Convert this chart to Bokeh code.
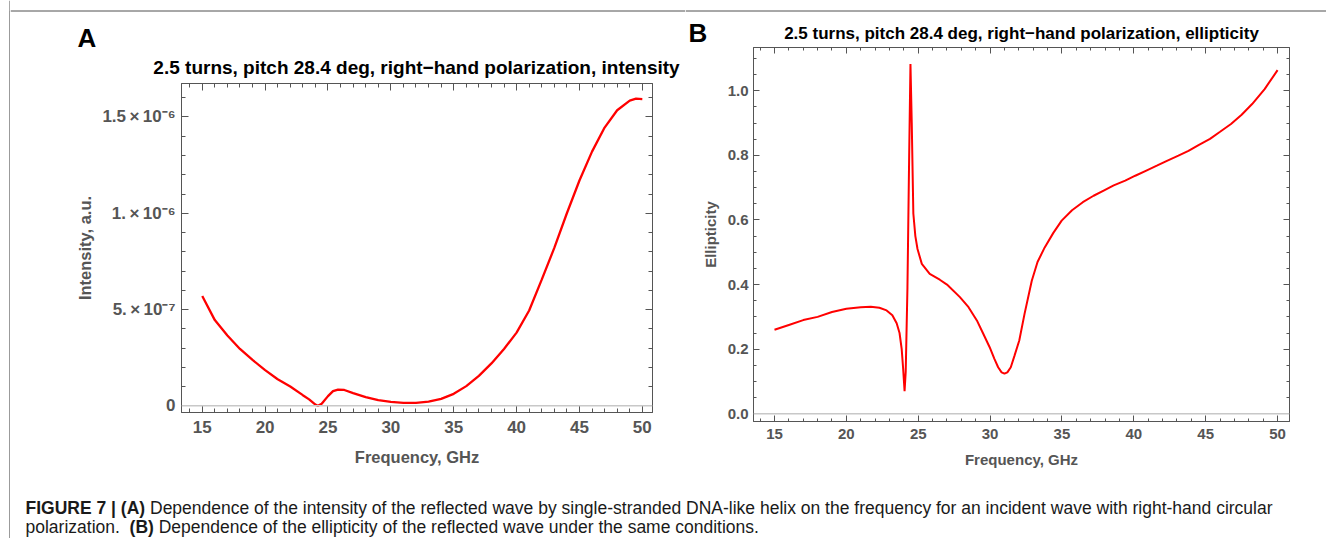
from bokeh.plotting import figure
from bokeh.models import (Range1d, LinearAxis, FixedTicker, CustomJSTickFormatter,
                          Span, Label, PrintfTickFormatter, BoxAnnotation)
from bokeh.layouts import column, row
from bokeh.embed import file_html
from bokeh.resources import INLINE

# ---------------- data ----------------
freq_a = [15.0, 16.0, 17.0, 18.0, 19.0, 20.0, 21.0, 22.0, 23.0, 23.5, 24.0, 24.2,
          24.5, 25.0, 25.4, 25.8, 26.3, 27.0, 28.0, 29.0, 30.0, 31.0, 32.0, 33.0,
          34.0, 35.0, 36.0, 37.0, 38.0, 39.0, 40.0, 41.0, 42.0, 43.0, 44.0, 45.0,
          46.0, 47.0, 48.0, 49.0, 49.5, 50.0]
intensity_a = [5.70e-7, 4.45e-7, 3.65e-7, 2.95e-7, 2.38e-7, 1.85e-7, 1.38e-7, 1.00e-7,
               0.55e-7, 0.33e-7, 0.06e-7, 0.00e-7, 0.10e-7, 0.50e-7, 0.76e-7, 0.84e-7,
               0.82e-7, 0.66e-7, 0.45e-7, 0.29e-7, 0.20e-7, 0.15e-7, 0.15e-7, 0.21e-7,
               0.36e-7, 0.62e-7, 1.02e-7, 1.55e-7, 2.20e-7, 2.95e-7, 3.80e-7, 4.95e-7,
               6.55e-7, 8.20e-7, 10.0e-7, 11.7e-7, 13.2e-7, 14.45e-7, 15.35e-7, 15.85e-7,
               15.95e-7, 15.93e-7]

freq_b = [15.0, 16.0, 17.0, 18.0, 19.0, 20.0, 21.0, 21.7, 22.3, 22.8, 23.2, 23.5, 23.7,
          23.85, 23.95, 24.05, 24.13, 24.25, 24.37, 24.46, 24.55, 24.66, 24.8, 24.95,
          25.25, 25.8, 26.5, 27.0, 27.9, 28.5, 29.08, 29.5, 29.97, 30.3, 30.56, 30.8,
          31.0, 31.2, 31.44, 31.7, 32.03, 32.4, 32.9, 33.3, 33.8, 34.4, 34.98, 35.7,
          36.45, 37.2, 37.9, 38.6, 39.4, 40.1, 40.87, 41.6, 42.34, 43.1, 43.8, 44.5,
          45.3, 46.0, 46.76, 47.5, 48.23, 49.1, 50.0]
ellipticity_b = [0.26, 0.275, 0.29, 0.30, 0.315, 0.325, 0.33, 0.331, 0.328, 0.32, 0.305,
                 0.28, 0.25, 0.20, 0.14, 0.07, 0.13, 0.39, 0.80, 1.083, 0.90, 0.62, 0.55,
                 0.51, 0.464, 0.433, 0.415, 0.40, 0.361, 0.33, 0.289, 0.25, 0.206, 0.17,
                 0.144, 0.128, 0.124, 0.128, 0.144, 0.18, 0.227, 0.31, 0.412, 0.47, 0.515,
                 0.56, 0.598, 0.63, 0.655, 0.675, 0.691, 0.707, 0.722, 0.737, 0.753, 0.768,
                 0.784, 0.799, 0.814, 0.832, 0.851, 0.873, 0.897, 0.926, 0.959, 1.005, 1.064]

freq_ticks = [15, 20, 25, 30, 35, 40, 45, 50]
freq_minor = list(range(14, 51))
int_ticks = [0.0, 5e-7, 1e-6, 1.5e-6]
int_tick_labels = ["0", "5.\u2009×\u200910⁻⁷", "1.\u2009×\u200910⁻⁶", "1.5\u2009×\u200910⁻⁶"]
int_minor = [k * 1e-7 for k in range(0, 17)]
ell_ticks = [0.0, 0.2, 0.4, 0.6, 0.8, 1.0]
ell_minor = [k * 0.05 for k in range(0, 23)]

title_a = "2.5 turns, pitch 28.4 deg, right\u2212hand polarization, intensity"
title_b = "2.5 turns, pitch 28.4 deg, right\u2212hand polarization, ellipticity"
xlabel = "Frequency, GHz"
ylabel_a = "Intensity, a.u."
ylabel_b = "Ellipticity"
cap_bold_1 = "FIGURE 7 | (A)"
cap_text_1 = ("Dependence of the intensity of the reflected wave by single-stranded DNA-like "
              "helix on the frequency for an incident wave with right-hand circular")
cap_text_2a = "polarization."
cap_bold_2 = "(B)"
cap_text_2b = "Dependence of the ellipticity of the reflected wave under the same conditions."

FONT = "Liberation Sans"
FRAME = "#555555"
LABEL = "#555555"
RED = "#ff0000"
BORDER = "#505050"
MID = 0.3465   # baseline offset of the em-box middle, in em


def style_axis(ax, label_size, major_in, minor_in, show_labels=True, standoff=6):
    ax.major_tick_in = major_in
    ax.major_tick_out = 0
    ax.minor_tick_in = minor_in
    ax.minor_tick_out = 0
    ax.axis_line_color = FRAME
    ax.major_tick_line_color = FRAME
    ax.minor_tick_line_color = FRAME
    ax.major_label_text_font = FONT
    ax.major_label_text_font_style = "bold"
    ax.major_label_text_font_size = label_size
    ax.major_label_text_color = LABEL
    ax.major_label_standoff = standoff
    ax.axis_label_text_font = FONT
    ax.axis_label_text_font_style = "bold"
    ax.axis_label_text_color = LABEL
    if not show_labels:
        ax.formatter = CustomJSTickFormatter(code="return ''")
        ax.major_label_standoff = 0
        ax.major_label_text_font_size = "0px"


def make_panel(width, height, left, right, top, bottom, xr, yr):
    p = figure(width=width, height=height, x_range=xr, y_range=yr,
               output_backend="svg", toolbar_location=None,
               min_border_left=left, min_border_right=right,
               min_border_top=top, min_border_bottom=bottom)
    p.grid.visible = False
    p.outline_line_color = FRAME
    p.outline_line_width = 1
    p.background_fill_color = "white"
    p.border_fill_color = "white"
    return p


def make_blank(width, height):
    # a text/decoration canvas whose frame covers the whole figure (1 unit = 1 px, y downwards)
    b = figure(width=width, height=height, x_range=Range1d(0, width), y_range=Range1d(height, 0),
               output_backend="svg", toolbar_location=None, min_border=0,
               x_axis_location=None, y_axis_location=None)
    b.grid.visible = False
    b.outline_line_color = None
    b.background_fill_color = "white"
    b.border_fill_color = "white"
    return b


def text(fig, x, baseline, txt, size, bold=False, align="left", color="black"):
    fig.add_layout(Label(x=x, y=baseline - MID * size, text=txt, text_font=FONT,
                         text_font_style="bold" if bold else "normal",
                         text_font_size=f"{size}px", text_color=color,
                         text_align=align, text_baseline="middle"))


# ---------------- geometry ----------------
STRIP_W = 10
WA, WB = 675, 641
ROW_H, CAP_H = 480, 58
HA, HB = 78, 47

# ---------------- panel A ----------------
hA = make_blank(WA, HA)
hA.add_layout(Span(location=10.5, dimension="width", line_color=BORDER, line_width=1))
text(hA, 67, 47, "A", 26, bold=True)
text(hA, 406, 73.5, title_a, 19, bold=True, align="center")

pA = make_panel(WA, ROW_H - HA, 171, 33, 5, 68, Range1d(13.35, 50.81), Range1d(-3.5e-8, 1.674e-6))
pA.add_layout(Span(location=0, dimension="width", line_color="#c8c8c8", line_width=1.5))
pA.line(freq_a, intensity_a, line_color=RED, line_width=2.3)

xa = pA.xaxis[0]
xa.ticker = FixedTicker(ticks=freq_ticks, minor_ticks=freq_minor)
style_axis(xa, "17px", 7, 4, standoff=8)
xa.axis_label = xlabel
xa.axis_label_text_font_size = "16.5px"
xa.axis_label_standoff = 12

ya = pA.yaxis[0]
ya.ticker = FixedTicker(ticks=int_ticks, minor_ticks=int_minor)
ya.formatter = CustomJSTickFormatter(args=dict(tvals=int_ticks, tlabels=int_tick_labels), code="""
    for (let i = 0; i < tvals.length; i++) {
        if (Math.abs(tvals[i] - tick) < 1e-10) return tlabels[i];
    }
    return '';
""")
style_axis(ya, "17px", 7, 4, standoff=6)
ya.axis_label = ylabel_a
ya.axis_label_text_font_size = "16.5px"
ya.axis_label_standoff = 5

ra = LinearAxis(ticker=FixedTicker(ticks=int_ticks, minor_ticks=int_minor))
style_axis(ra, "1px", 7, 4, show_labels=False)
pA.add_layout(ra, "right")
ta = LinearAxis(ticker=FixedTicker(ticks=freq_ticks, minor_ticks=freq_minor))
style_axis(ta, "1px", 7, 4, show_labels=False)
pA.add_layout(ta, "above")

# ---------------- panel B ----------------
hB = make_blank(WB, HB)
hB.add_layout(Span(location=10.5, dimension="width", line_color=BORDER, line_width=1))
text(hB, 3, 41.5, "B", 26, bold=True)
text(hB, 336, 38.5, title_b, 17, bold=True, align="center")

pB = make_panel(WB, ROW_H - HB, 68, 37, 0, 59, Range1d(13.54, 50.83), Range1d(-0.024, 1.134))
pB.add_layout(Span(location=0, dimension="width", line_color="#c8c8c8", line_width=1.5))
pB.line(freq_b, ellipticity_b, line_color=RED, line_width=2.0)

xb = pB.xaxis[0]
xb.ticker = FixedTicker(ticks=freq_ticks, minor_ticks=freq_minor)
style_axis(xb, "15px", 6, 3, standoff=7)
xb.axis_label = xlabel
xb.axis_label_text_font_size = "15px"
xb.axis_label_standoff = 9

yb = pB.yaxis[0]
yb.ticker = FixedTicker(ticks=ell_ticks, minor_ticks=ell_minor)
yb.formatter = PrintfTickFormatter(format="%.1f")
style_axis(yb, "15px", 6, 3, standoff=5)
yb.axis_label = ylabel_b
yb.axis_label_text_font_size = "15px"
yb.axis_label_standoff = 6

rb = LinearAxis(ticker=FixedTicker(ticks=ell_ticks, minor_ticks=ell_minor))
style_axis(rb, "1px", 6, 3, show_labels=False)
pB.add_layout(rb, "right")
tb = LinearAxis(ticker=FixedTicker(ticks=freq_ticks, minor_ticks=freq_minor))
style_axis(tb, "1px", 6, 3, show_labels=False)
pB.add_layout(tb, "above")

# ---------------- caption ----------------
pc = make_blank(WA + WB, CAP_H)
CAP_PX = 17.5
bold_w1 = 6.836 * CAP_PX      # width of bold "FIGURE 7 | (A)"
space = 0.278 * CAP_PX
polar_w = 5.391 * CAP_PX      # width of regular "polarization."
bold_w2 = 1.388 * CAP_PX      # width of bold "(B)"
x0 = 15
b1, b2 = 34, 53               # baselines inside the caption strip
CAPC = "#1a1a1a"
text(pc, x0, b1, cap_bold_1, CAP_PX, bold=True, color=CAPC)
text(pc, x0 + bold_w1 + space, b1, cap_text_1, CAP_PX, color=CAPC)
text(pc, x0, b2, cap_text_2a, CAP_PX, color=CAPC)
text(pc, x0 + polar_w + 2 * space, b2, cap_bold_2, CAP_PX, bold=True, color=CAPC)
text(pc, x0 + polar_w + 3 * space + bold_w2, b2, cap_text_2b, CAP_PX, color=CAPC)

# ---------------- outer frame strip (left edge) ----------------
strip = make_blank(STRIP_W, ROW_H + CAP_H)
strip.add_layout(Span(location=9.5, dimension="height", line_color=BORDER, line_width=1))
strip.add_layout(BoxAnnotation(left=9.5, right=1000, top=10.5, bottom=5000,
                               fill_alpha=0, line_color=BORDER, line_width=1))

layout = row(column(strip),
             column(row(column(column(hA), pA), column(column(hB), pB)), pc))

open("out.html", "w").write(file_html(layout, INLINE))
